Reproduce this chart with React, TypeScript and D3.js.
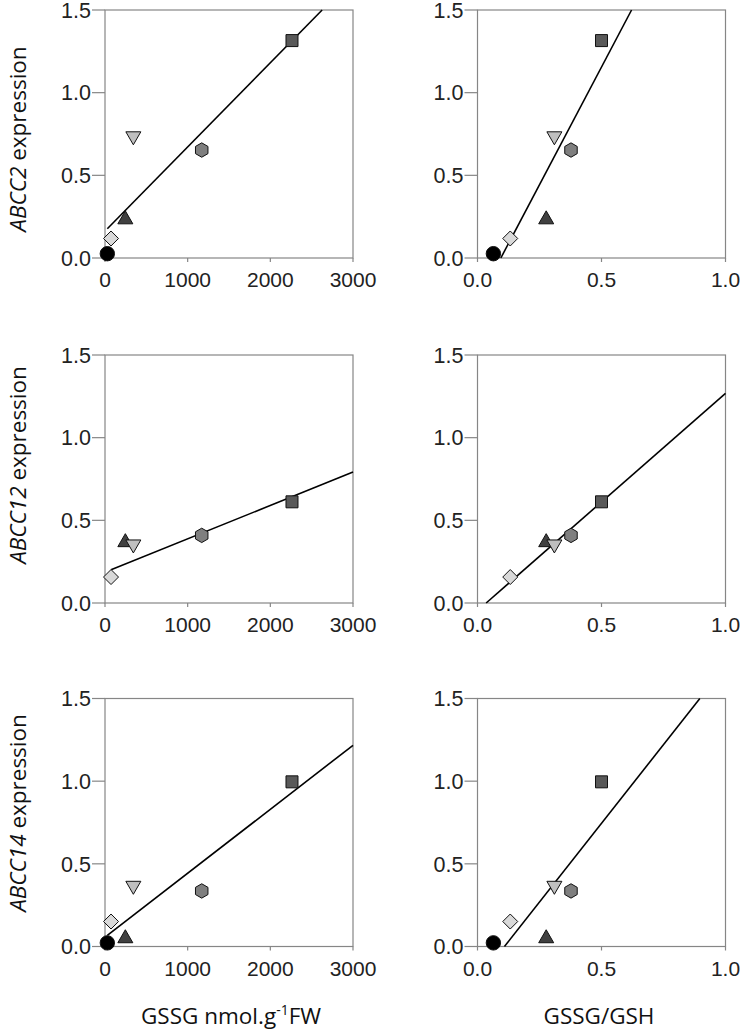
import React from 'react';
import * as d3 from 'd3';

// ---- data ----
const markerShapes = ['circle', 'diamond', 'triangleUp', 'triangleDown', 'hexagon', 'square'];
const markerFills = ['#000000', '#d9d9d9', '#404040', '#bfbfbf', '#7f7f7f', '#595959'];

const gssgNmol = [28, 73, 246, 343, 1170, 2262];
const gssgGshRatio = [0.064, 0.132, 0.277, 0.31, 0.377, 0.5];

const genes = ['ABCC2', 'ABCC12', 'ABCC14'];
const abcc2Expr = [0.026, 0.118, 0.24, 0.73, 0.653, 1.315];
const abcc12Expr = [null, 0.157, 0.374, 0.348, 0.409, 0.612];
const abcc14Expr = [0.022, 0.151, 0.056, 0.361, 0.336, 0.996];
const exprByGene = [abcc2Expr, abcc12Expr, abcc14Expr];

// regression lines
const nmolIntercepts = [0.163, 0.186, 0.056];
const nmolSlopes = [0.000509, 0.000202, 0.000387];
const ratioIntercepts = [-0.268, -0.046, -0.207];
const ratioSlopes = [2.846, 1.314, 1.904];

const nmolTicks = [0, 1000, 2000, 3000];
const ratioTicks = [0, 0.5, 1.0];
const exprTicks = [0, 0.5, 1.0, 1.5];

// ---- layout ----
const colLeft = [105, 477.5];
const rowTop = [10, 355, 698.5];
const plotW = 248;
const plotH = 248;
const labelCenters = [139, 465, 813];

const frameColor = '#868686';
const tickFont = '"Liberation Sans", Arial, sans-serif';
const titleFont = '"Open Sans", "Noto Sans", sans-serif';

function markerPath(shape: string, cx: number, cy: number): string {
  const poly = (pts: number[][]) => 'M' + pts.map(p => `${(cx + p[0]).toFixed(2)},${(cy + p[1]).toFixed(2)}`).join('L') + 'Z';
  switch (shape) {
    case 'circle': {
      const r = 7.2;
      return `M${cx - r},${cy}a${r},${r} 0 1,0 ${2 * r},0a${r},${r} 0 1,0 ${-2 * r},0Z`;
    }
    case 'diamond':
      return poly([[0, -7.5], [7.5, 0], [0, 7.5], [-7.5, 0]]);
    case 'triangleUp':
      return poly([[0, -7.5], [7.5, 5.5], [-7.5, 5.5]]);
    case 'triangleDown':
      return poly([[0, 7.5], [7.5, -5.5], [-7.5, -5.5]]);
    case 'hexagon': {
      const r = 7.2;
      const pts: number[][] = [];
      for (let k = 0; k < 6; k++) {
        const a = -Math.PI / 2 + (k * Math.PI) / 3;
        pts.push([r * Math.cos(a), r * Math.sin(a)]);
      }
      return poly(pts);
    }
    case 'square':
    default:
      return poly([[-6, -6], [6, -6], [6, 6], [-6, 6]]);
  }
}

function Panel({ row, col }: { row: number; col: number }) {
  const left = colLeft[col];
  const top = rowTop[row];
  const isNmol = col === 0;
  const xs = isNmol ? gssgNmol : gssgGshRatio;
  const ys = exprByGene[row];
  const x = d3.scaleLinear().domain(isNmol ? [0, 3000] : [0, 1]).range([left, left + plotW]);
  const y = d3.scaleLinear().domain([0, 1.5]).range([top + plotH, top]);
  const xTicks = isNmol ? nmolTicks : ratioTicks;
  const xFmt = isNmol ? d3.format('d') : d3.format('.1f');
  const yFmt = d3.format('.1f');

  // regression line
  const a = isNmol ? nmolIntercepts[row] : ratioIntercepts[row];
  const b = isNmol ? nmolSlopes[row] : ratioSlopes[row];
  const validX = xs.filter((_, i) => ys[i] != null);
  let x0 = isNmol ? (d3.min(validX) as number) : 0;
  let x1 = isNmol ? 3000 : 1;
  const xAtY = (v: number) => (v - a) / b;
  if (a + b * x0 < 0) x0 = xAtY(0);
  if (a + b * x1 > 1.5) x1 = xAtY(1.5);
  const line = d3.line<number>().x(d => x(d)).y(d => y(a + b * d));

  return (
    <g>
      <rect x={left} y={top} width={plotW} height={plotH} fill="none" stroke={frameColor} strokeWidth={1.2} />
      {exprTicks.map(t => (
        <g key={'y' + t}>
          <line x1={left - 13} x2={left} y1={y(t)} y2={y(t)} stroke={frameColor} strokeWidth={1.2} />
          <text x={left - 14} y={y(t)} dy="0.36em" textAnchor="end" fontFamily={tickFont} fontSize={21.5} fill="#222">
            {yFmt(t)}
          </text>
        </g>
      ))}
      {xTicks.map(t => (
        <g key={'x' + t}>
          <line x1={x(t)} x2={x(t)} y1={top + plotH} y2={top + plotH + 4} stroke={frameColor} strokeWidth={1.2} />
          <text x={x(t)} y={top + plotH + 29} textAnchor="middle" fontFamily={tickFont} fontSize={21} fill="#222">
            {xFmt(t)}
          </text>
        </g>
      ))}
      <path d={line([x0, x1]) || ''} fill="none" stroke="#000" strokeWidth={1.6} />
      {xs.map((xv, i) =>
        ys[i] == null ? null : (
          <path key={i} d={markerPath(markerShapes[i], x(xv), y(ys[i] as number))} fill={markerFills[i]} stroke="#111" strokeWidth={1} />
        )
      )}
    </g>
  );
}

export default function App() {
  return (
    <svg width={740} height={1034} style={{ position: 'absolute', left: 0, top: 0, display: 'block', background: '#fff' }}>
      <rect x={0} y={0} width={740} height={1034} fill="#fff" />
      {genes.map((g, row) => (
        <g key={g}>
          <Panel row={row} col={0} />
          <Panel row={row} col={1} />
          <text
            transform={`translate(26,${labelCenters[row]}) rotate(-90)`}
            textAnchor="middle"
            fontFamily={titleFont}
            fontSize={22.5}
            fill="#111"
          >
            <tspan fontStyle="italic">{g}</tspan>
            <tspan> expression</tspan>
          </text>
        </g>
      ))}
      <text x={231} y={1024} textAnchor="middle" fontFamily={titleFont} fontSize={22.5} fill="#111">
        GSSG nmol.g<tspan dy={-9} fontSize={14}>-1</tspan>
        <tspan dy={9}>FW</tspan>
      </text>
      <text x={599} y={1024} textAnchor="middle" fontFamily={titleFont} fontSize={22.5} fill="#111">
        GSSG/GSH
      </text>
    </svg>
  );
}
